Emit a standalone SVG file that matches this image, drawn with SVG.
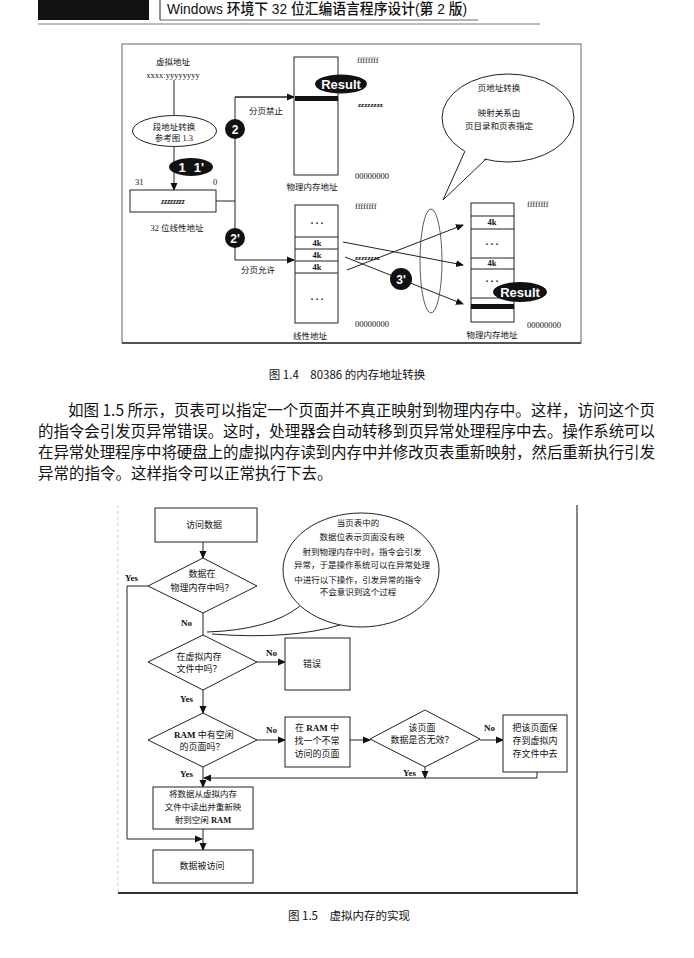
<svg xmlns="http://www.w3.org/2000/svg" width="694" height="958" viewBox="0 0 694 958">
<defs>
<marker id="ar" markerWidth="8" markerHeight="8" refX="7" refY="4" orient="auto" markerUnits="userSpaceOnUse"><path d="M0,0.5 L8,4 L0,7.5 Z" fill="#111"/></marker>
<style>
.ln{fill:none;stroke:#222;stroke-width:1}
.bx{fill:#fff;stroke:#222;stroke-width:1}
.t{font-family:"Liberation Serif","Noto Sans CJK SC",serif;fill:#111}
.s8{font-size:8.5px}
.s9{font-size:9px}
.c{text-anchor:middle}
.w{fill:#fff;font-family:"Liberation Sans",Arial,sans-serif;font-weight:bold}
.yn{font-family:"Liberation Serif",serif;font-weight:bold;font-size:9px;fill:#111}
.cj{font-family:"Noto Sans CJK SC","Liberation Serif",sans-serif;fill:#111}
</style>
</defs>
<rect width="694" height="958" fill="#fff"/>

<!-- page header -->
<g id="header">
<rect x="38" y="0" width="111" height="20" fill="#111"/>
<line x1="160" y1="0" x2="160" y2="20" stroke="#222" stroke-width="1"/>
<text x="167" y="14" style="font-family:'Liberation Sans','Noto Sans CJK SC',sans-serif;font-size:14.5px;font-weight:500;fill:#111" textLength="300" lengthAdjust="spacingAndGlyphs">Windows 环境下 32 位汇编语言程序设计(第 2 版)</text>
<line x1="160" y1="20" x2="478" y2="20" stroke="#444" stroke-width="0.8"/>
<line x1="38" y1="24" x2="540" y2="24" stroke="#555" stroke-width="0.8"/>
</g>

<!-- Figure 1.4 -->
<g id="fig14-frame">
<rect x="122" y="44" width="459" height="299" fill="none" stroke="#666" stroke-width="1"/>
<line x1="122" y1="343" x2="581" y2="343" stroke="#333" stroke-width="1.6"/>
</g>

<g id="fig14-connectors">
<line class="ln" x1="174" y1="80" x2="174" y2="116"/>
<line class="ln" x1="174" y1="147" x2="174" y2="190" marker-end="url(#ar)"/>
<polyline class="ln" points="216,201 235,201"/>
<polyline class="ln" points="294,97 235,97 235,260 294,260" marker-end="url(#ar)"/>
<line class="ln" x1="235" y1="97" x2="294" y2="97" marker-end="url(#ar)"/>
<line class="ln" x1="343" y1="242" x2="463" y2="265" marker-end="url(#ar)"/>
<line class="ln" x1="347" y1="270" x2="463" y2="225" marker-end="url(#ar)"/>
<line class="ln" x1="345" y1="257" x2="463" y2="304" marker-end="url(#ar)"/>
<ellipse cx="431" cy="261" rx="11" ry="52" fill="none" stroke="#333" stroke-width="0.8"/>
</g>

<g id="virt-addr">
<text class="t s8 c" x="173" y="65">虚拟地址</text>
<text class="t s8 c" x="173" y="78">xxxx:yyyyyyyy</text>
</g>

<g id="seg-trans">
<ellipse cx="174.5" cy="131" rx="42" ry="15.5" class="bx"/>
<text class="t s8 c" x="174" y="130">段地址转换</text>
<text class="t s8 c" x="174" y="141">参考图 1.3</text>
</g>

<g id="step1">
<ellipse cx="191" cy="167" rx="22" ry="9" fill="#111"/>
<text class="w c" x="182" y="172" font-size="13">1</text>
<text class="w c" x="199" y="172" font-size="13">1'</text>
</g>

<g id="linear32">
<text class="t s8" x="135" y="185">31</text>
<text class="t s8" x="213" y="185">0</text>
<rect class="bx" x="130" y="190" width="86" height="22"/>
<text class="t c" x="173" y="204" font-size="7.5" font-style="italic" font-weight="bold">zzzzzzzz</text>
<text class="t s8 c" x="177" y="231">32 位线性地址</text>
</g>

<g id="step2">
<circle cx="235" cy="129" r="10" fill="#111"/>
<text class="w c" x="235" y="134" font-size="12">2</text>
<text class="t s8 c" x="266" y="114">分页禁止</text>
</g>

<g id="step2b">
<circle cx="235" cy="238" r="10" fill="#111"/>
<text class="w c" x="235" y="243" font-size="12">2'</text>
<text class="t s8 c" x="258" y="273">分页允许</text>
</g>

<g id="phys-mem-1">
<rect class="bx" x="294" y="57" width="44" height="118"/>
<rect x="295" y="96" width="43" height="5" fill="#111"/>
<ellipse cx="341" cy="84" rx="26" ry="9.5" fill="#111"/>
<text class="w c" x="341" y="89" font-size="13">Result</text>
<text class="t s8" x="357" y="63">ffffffff</text>
<text class="t" x="358" y="107" font-size="7" font-weight="bold">zzzzzzzz</text>
<text class="t s8" x="355" y="179">00000000</text>
<text class="t s8 c" x="312" y="190">物理内存地址</text>
</g>

<g id="linear-mem">
<rect class="bx" x="295" y="205" width="43" height="118"/>
<line class="ln" x1="295" y1="237" x2="338" y2="237"/>
<line class="ln" x1="295" y1="249" x2="338" y2="249"/>
<line class="ln" x1="295" y1="261" x2="338" y2="261"/>
<line class="ln" x1="295" y1="273" x2="338" y2="273"/>
<text class="t c" x="317" y="224" font-size="10" font-weight="bold">. . .</text>
<text class="t c" x="317" y="246" font-size="8.5" font-weight="bold">4k</text>
<text class="t c" x="317" y="258" font-size="8.5" font-weight="bold">4k</text>
<text class="t c" x="317" y="270" font-size="8.5" font-weight="bold">4k</text>
<text class="t c" x="317" y="300" font-size="10" font-weight="bold">. . .</text>
<text class="t s8" x="355" y="209">ffffffff</text>
<text class="t" x="355" y="260" font-size="7" font-weight="bold">zzzzzzzz</text>
<text class="t s8" x="355" y="327">00000000</text>
<text class="t s8 c" x="310" y="339">线性地址</text>
</g>

<g id="step3">
<circle cx="401" cy="279" r="11" fill="#111"/>
<text class="w c" x="401" y="284" font-size="12">3'</text>
</g>

<g id="phys-mem-2">
<rect class="bx" x="471" y="203" width="43" height="119"/>
<line class="ln" x1="471" y1="216" x2="514" y2="216"/>
<line class="ln" x1="471" y1="229" x2="514" y2="229"/>
<line class="ln" x1="471" y1="258" x2="514" y2="258"/>
<line class="ln" x1="471" y1="269" x2="514" y2="269"/>
<line class="ln" x1="471" y1="298" x2="514" y2="298"/>
<rect x="471" y="304" width="43" height="5" fill="#111"/>
<text class="t c" x="492" y="225" font-size="8.5" font-weight="bold">4k</text>
<text class="t c" x="492" y="245" font-size="10" font-weight="bold">. . .</text>
<text class="t c" x="492" y="266" font-size="8.5" font-weight="bold">4k</text>
<text class="t c" x="492" y="282" font-size="10" font-weight="bold">. . .</text>
<ellipse cx="520" cy="292" rx="27" ry="10" fill="#111"/>
<text class="w c" x="520" y="297" font-size="13">Result</text>
<text class="t s8" x="527" y="207">ffffffff</text>
<text class="t s8" x="527" y="328">00000000</text>
<text class="t s8 c" x="492" y="338">物理内存地址</text>
</g>

<g id="page-bubble">
<ellipse cx="508" cy="118" rx="66" ry="44" fill="#fff" stroke="#222" stroke-width="1"/>
<polygon points="465,149 443,200 486,157 486,150 465,145" fill="#fff"/>
<polyline class="ln" points="465,151 443,200 486,159"/>
<text class="t s8 c" x="499" y="91">页地址转换</text>
<text class="t s8 c" x="499" y="116">映射关系由</text>
<text class="t s8 c" x="499" y="129">页目录和页表指定</text>
</g>

<g id="cap14">
<text class="cj c" x="347" y="379" font-size="11.5">图 1.4　80386 的内存地址转换</text>
</g>

<g id="para" class="cj" font-size="15.5">
<text x="68" y="416" textLength="587" lengthAdjust="spacing">如图 1.5 所示，页表可以指定一个页面并不真正映射到物理内存中。这样，访问这个页</text>
<text x="38" y="437" textLength="617" lengthAdjust="spacing">的指令会引发页异常错误。这时，处理器会自动转移到页异常处理程序中去。操作系统可以</text>
<text x="38" y="458" textLength="617" lengthAdjust="spacing">在异常处理程序中将硬盘上的虚拟内存读到内存中并修改页表重新映射，然后重新执行引发</text>
<text x="38" y="479">异常的指令。这样指令可以正常执行下去。</text>
</g>

<!-- Figure 1.5 -->
<g id="fig15-frame">
<line x1="118" y1="505" x2="118" y2="893" stroke="#bbb" stroke-width="0.8" stroke-dasharray="3,3"/>
<line x1="577" y1="505" x2="577" y2="893" stroke="#333" stroke-width="1.2"/>
<line x1="118" y1="893" x2="578" y2="893" stroke="#333" stroke-width="2"/>
</g>

<g id="fig15-connectors">
<line class="ln" x1="203" y1="542" x2="203" y2="558" marker-end="url(#ar)"/>
<polyline class="ln" points="148,586 127,586 127,839 202,839" marker-end="url(#ar)"/>
<line class="ln" x1="203" y1="613" x2="203" y2="635"/>
<line class="ln" x1="257" y1="662" x2="285" y2="662" marker-end="url(#ar)"/>
<line class="ln" x1="203" y1="690" x2="203" y2="713" marker-end="url(#ar)"/>
<line class="ln" x1="257" y1="740" x2="285" y2="740" marker-end="url(#ar)"/>
<line class="ln" x1="350" y1="740" x2="370" y2="740" marker-end="url(#ar)"/>
<line class="ln" x1="480" y1="740" x2="503" y2="740" marker-end="url(#ar)"/>
<line class="ln" x1="425" y1="767" x2="425" y2="778" marker-end="url(#ar)"/>
<polyline class="ln" points="537,772 537,778 204,778" marker-end="url(#ar)"/>
<line class="ln" x1="203" y1="767" x2="203" y2="787" marker-end="url(#ar)"/>
<line class="ln" x1="203" y1="829" x2="203" y2="850" marker-end="url(#ar)"/>
<text class="yn" x="125" y="581">Yes</text>
<text class="yn" x="181" y="626">No</text>
<text class="yn" x="266" y="656">No</text>
<text class="yn" x="180" y="702">Yes</text>
<text class="yn" x="266" y="733">No</text>
<text class="yn" x="180" y="777">Yes</text>
<text class="yn" x="484" y="731">No</text>
<text class="yn" x="403" y="776">Yes</text>
</g>

<g id="access-data">
<rect class="bx" x="155" y="508" width="102" height="34"/>
<text class="t s9 c" x="204" y="528">访问数据</text>
</g>

<g id="in-ram">
<polygon class="bx" points="203,558 257,586 203,613 148,586"/>
<text class="t s9 c" x="202" y="577">数据在</text>
<text class="t s9 c" x="202" y="591">物理内存中吗？</text>
</g>

<g id="note-bubble">
<ellipse cx="361" cy="570" rx="78" ry="57" fill="#fff" stroke="#222" stroke-width="1"/>
<path d="M300,606 Q270,630 207,632" class="ln"/>
<path d="M340,625 Q290,640 212,634" class="ln"/>
<g class="t c" font-size="8.5">
<text x="358" y="526">当页表中的</text>
<text x="362" y="540">数据位表示页面没有映</text>
<text x="362" y="555">射到物理内存中时，指令会引发</text>
<text x="362" y="568">异常，于是操作系统可以在异常处理</text>
<text x="358" y="583">中进行以下操作，引发异常的指令</text>
<text x="358" y="595">不会意识到这个过程</text>
</g>
</g>

<g id="in-vfile">
<polygon class="bx" points="203,635 257,662 203,690 148,662"/>
<text class="t s9 c" x="199" y="660">在虚拟内存</text>
<text class="t s9 c" x="199" y="672">文件中吗？</text>
</g>

<g id="error">
<rect class="bx" x="285" y="638" width="65" height="52"/>
<text class="t s9 c" x="312" y="667">错误</text>
</g>

<g id="free-page">
<polygon class="bx" points="203,713 257,740 203,767 148,740"/>
<text class="t s9 c" x="204" y="738"><tspan font-weight="bold">RAM</tspan> 中有空闲</text>
<text class="t s9 c" x="202" y="750">的页面吗？</text>
</g>

<g id="find-page">
<rect class="bx" x="285" y="717" width="65" height="50"/>
<text class="t s9 c" x="317" y="731">在 <tspan font-weight="bold">RAM</tspan> 中</text>
<text class="t s9 c" x="317" y="744">找一个不常</text>
<text class="t s9 c" x="317" y="757">访问的页面</text>
</g>

<g id="invalid">
<polygon class="bx" points="425,710 480,739 425,767 370,739"/>
<text class="t s9 c" x="422" y="731">该页面</text>
<text class="t s9 c" x="422" y="743">数据是否无效？</text>
</g>

<g id="save-page">
<rect class="bx" x="503" y="715" width="64" height="57"/>
<text class="t s9 c" x="535" y="731">把该页面保</text>
<text class="t s9 c" x="535" y="744">存到虚拟内</text>
<text class="t s9 c" x="535" y="757">存文件中去</text>
</g>

<g id="read-back">
<rect class="bx" x="153" y="787" width="100" height="42"/>
<text class="t c" x="203" y="797" font-size="8.5">将数据从虚拟内存</text>
<text class="t c" x="203" y="810" font-size="8.5">文件中读出并重新映</text>
<text class="t c" x="203" y="823" font-size="8.5">射到空闲 <tspan font-weight="bold">RAM</tspan></text>
</g>

<g id="accessed">
<rect class="bx" x="153" y="850" width="100" height="33"/>
<text class="t s9 c" x="202" y="869">数据被访问</text>
</g>

<g id="cap15">
<text class="cj c" x="349" y="920" font-size="11.5">图 1.5　虚拟内存的实现</text>
</g>
</svg>
